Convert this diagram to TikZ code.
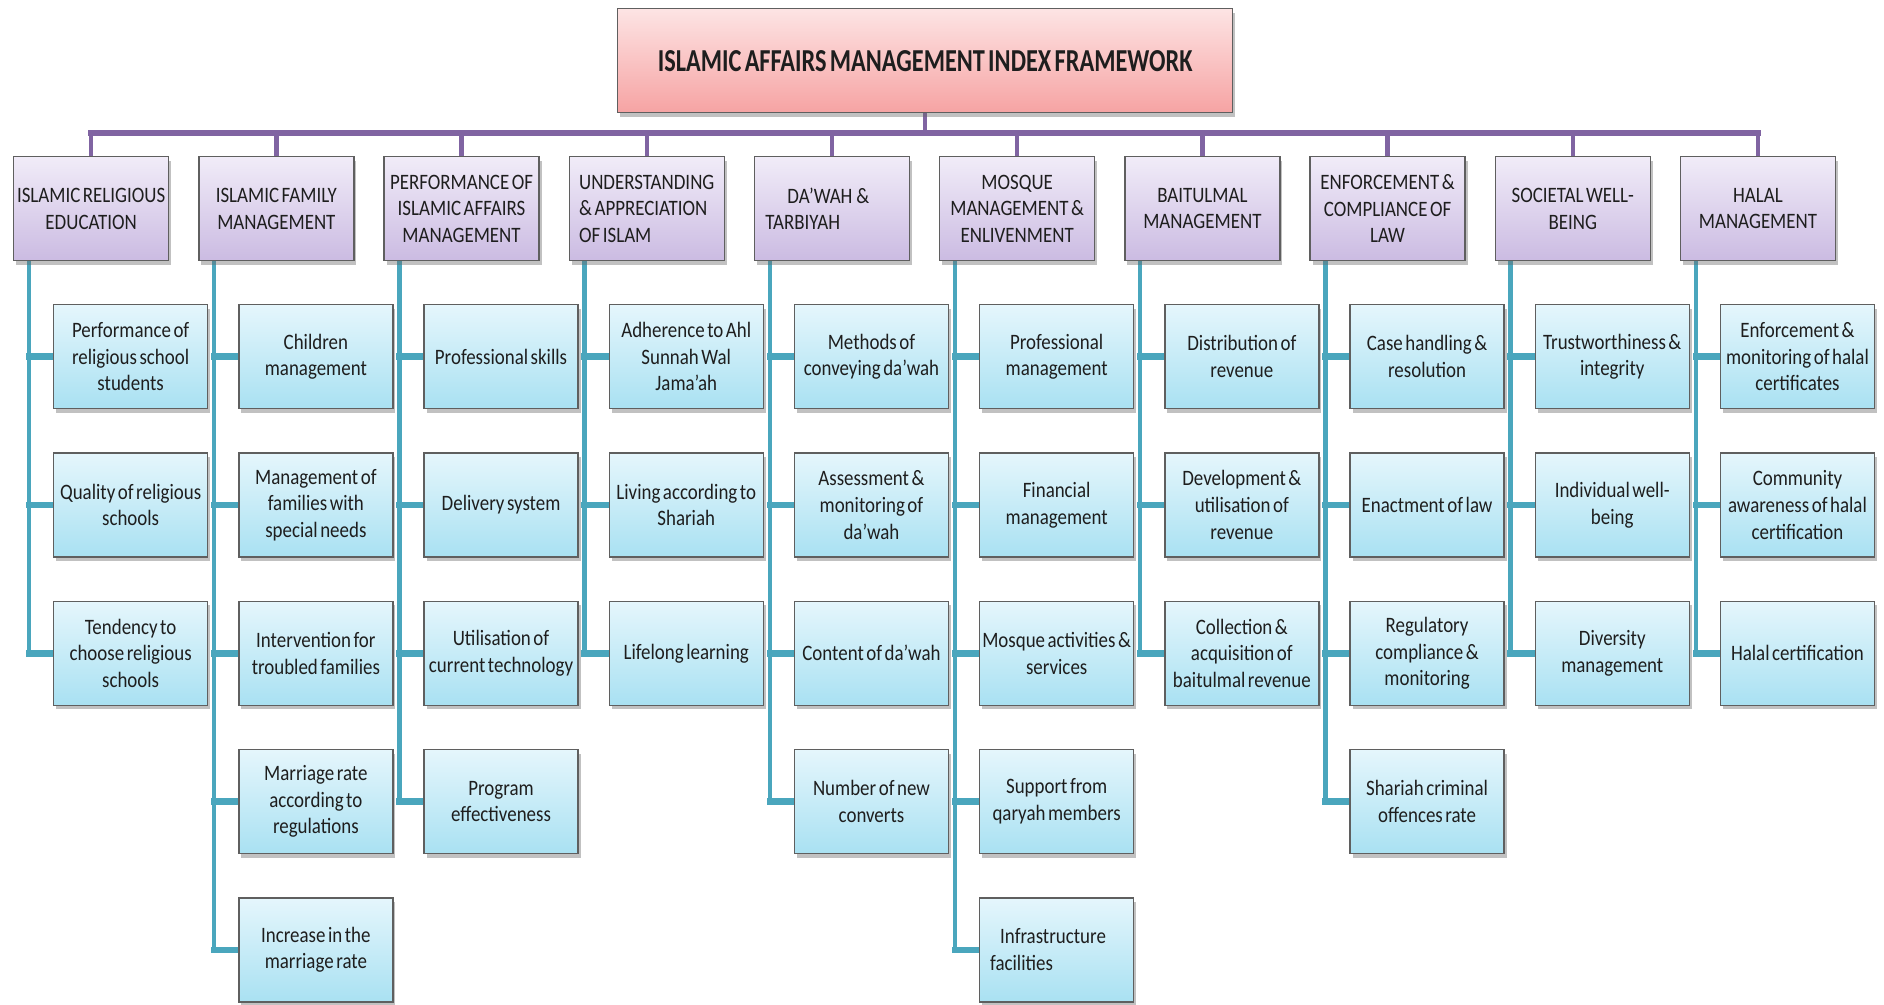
\documentclass[tikz,border=0pt]{standalone}
\usepackage{fontspec}
\setmainfont{Carlito}[FakeStretch=0.86, WordSpace=0.6]
\newfontfamily\titlefont{Carlito}[FakeStretch=0.76, WordSpace=0.6]
\usetikzlibrary{shadows,backgrounds}
\definecolor{boxline}{HTML}{5F5F5F}
\definecolor{titletop}{HTML}{FDE4E4}
\definecolor{titlebot}{HTML}{F6A3A3}
\definecolor{cattop}{HTML}{F1ECF8}
\definecolor{catbot}{HTML}{CBBBE2}
\definecolor{subtop}{HTML}{E5F6FC}
\definecolor{subbot}{HTML}{A9E1F2}
\definecolor{purpline}{HTML}{8064A2}
\definecolor{tealline}{HTML}{4AA6BD}
\definecolor{txt}{HTML}{1E1E1E}
\begin{document}
\begin{tikzpicture}[x=1pt,y=-1pt,
  every node/.style={inner sep=0pt, text=txt},
  shadowed/.style={drop shadow={shadow xshift=2.5pt,shadow yshift=-4pt,opacity=0.4,fill=black!60}},
  titlebox/.style={shadowed, draw=boxline, line width=1.3pt, top color=titletop, bottom color=titlebot,
    minimum width=615pt, minimum height=104pt, anchor=north west,
    font=\titlefont\bfseries\fontsize{32}{38}\selectfont},
  catbox/.style={shadowed, draw=boxline, line width=1.3pt, top color=cattop, bottom color=catbot,
    minimum width=155pt, minimum height=104pt, anchor=north west, align=center,
    font=\fontsize{22}{26.7}\selectfont},
  subbox/.style={shadowed, draw=boxline, line width=1.3pt, top color=subtop, bottom color=subbot,
    minimum width=154pt, minimum height=104pt, anchor=north west, align=center,
    font=\fontsize{22}{26.7}\selectfont},
  leftish/.style={text width=133pt, align=left},
  purpleline/.style={draw=purpline, line width=4.5pt},
  purplebar/.style={draw=purpline, line width=6pt, line cap=rect},
  spine/.style={draw=tealline, line width=4.5pt},
  stub/.style={draw=tealline, line width=6.5pt, line cap=rect},
]
\useasboundingbox (0,0) rectangle (1884,1004);

% title
\node[titlebox] (title) at (617,8) {ISLAMIC AFFAIRS MANAGEMENT INDEX FRAMEWORK};
\coordinate (bar) at (924.5,133);

% categories
\node[catbox] (c1)  at (13,156)     {ISLAMIC RELIGIOUS\\EDUCATION};
\node[catbox] (c2)  at (198.2,156)  {ISLAMIC FAMILY\\MANAGEMENT};
\node[catbox] (c3)  at (383.4,156)  {PERFORMANCE OF\\ISLAMIC AFFAIRS\\MANAGEMENT};
\node[catbox, align=left] (c4)  at (568.6,156)  {UNDERSTANDING\\\& APPRECIATION\\OF ISLAM};
\node[catbox, leftish] (c5)  at (753.8,156)  {\hspace*{22pt}DA’WAH\kern4pt\&\\TARBIYAH};
\node[catbox] (c6)  at (939,156)    {MOSQUE\\MANAGEMENT \&\\ENLIVENMENT};
\node[catbox] (c7)  at (1124.2,156) {BAITULMAL\\MANAGEMENT};
\node[catbox] (c8)  at (1309.4,156) {ENFORCEMENT \&\\COMPLIANCE OF\\LAW};
\node[catbox] (c9)  at (1494.6,156) {SOCIETAL WELL-\\BEING};
\node[catbox] (c10) at (1679.8,156) {HALAL\\MANAGEMENT};

% column 1
\node[subbox] (c1-1) at (53,304)   {Performance of\\religious school\\students};
\node[subbox] (c1-2) at (53,452.3) {Quality of religious\\schools};
\node[subbox] (c1-3) at (53,600.6) {Tendency to\\choose religious\\schools};
% column 2
\node[subbox] (c2-1) at (238.2,304)   {Children\\management};
\node[subbox] (c2-2) at (238.2,452.3) {Management of\\families with\\special needs};
\node[subbox] (c2-3) at (238.2,600.6) {Intervention for\\troubled families};
\node[subbox] (c2-4) at (238.2,748.9) {Marriage rate\\according to\\regulations};
\node[subbox] (c2-5) at (238.2,897.2) {Increase in the\\marriage rate};
% column 3
\node[subbox] (c3-1) at (423.4,304)   {Professional skills};
\node[subbox] (c3-2) at (423.4,452.3) {Delivery system};
\node[subbox] (c3-3) at (423.4,600.6) {Utilisation of\\current technology};
\node[subbox] (c3-4) at (423.4,748.9) {Program\\effectiveness};
% column 4
\node[subbox] (c4-1) at (608.6,304)   {Adherence to Ahl\\Sunnah Wal\\Jama’ah};
\node[subbox] (c4-2) at (608.6,452.3) {Living according to\\Shariah};
\node[subbox] (c4-3) at (608.6,600.6) {Lifelong learning};
% column 5
\node[subbox] (c5-1) at (793.8,304)   {Methods of\\conveying da’wah};
\node[subbox] (c5-2) at (793.8,452.3) {Assessment \&\\monitoring of\\da’wah};
\node[subbox] (c5-3) at (793.8,600.6) {Content of da’wah};
\node[subbox] (c5-4) at (793.8,748.9) {Number of new\\converts};
% column 6
\node[subbox] (c6-1) at (979,304)   {Professional\\management};
\node[subbox] (c6-2) at (979,452.3) {Financial\\management};
\node[subbox] (c6-3) at (979,600.6) {Mosque activities \&\\services};
\node[subbox] (c6-4) at (979,748.9) {Support from\\qaryah members};
\node[subbox, leftish] (c6-5) at (979,897.2) {\hspace*{10pt}Infrastructure\\facilities};
% column 7
\node[subbox] (c7-1) at (1164.2,304)   {Distribution of\\revenue};
\node[subbox] (c7-2) at (1164.2,452.3) {Development \&\\utilisation of\\revenue};
\node[subbox] (c7-3) at (1164.2,600.6) {Collection \&\\acquisition of\\baitulmal revenue};
% column 8
\node[subbox] (c8-1) at (1349.4,304)   {Case handling \&\\resolution};
\node[subbox] (c8-2) at (1349.4,452.3) {Enactment of law};
\node[subbox] (c8-3) at (1349.4,600.6) {Regulatory\\compliance \&\\monitoring};
\node[subbox] (c8-4) at (1349.4,748.9) {Shariah criminal\\offences rate};
% column 9
\node[subbox] (c9-1) at (1534.6,304)   {Trustworthiness \&\\integrity};
\node[subbox] (c9-2) at (1534.6,452.3) {Individual well-\\being};
\node[subbox] (c9-3) at (1534.6,600.6) {Diversity\\management};
% column 10
\node[subbox] (c10-1) at (1719.8,304)   {Enforcement \&\\monitoring of halal\\certificates};
\node[subbox] (c10-2) at (1719.8,452.3) {Community\\awareness of halal\\certification};
\node[subbox] (c10-3) at (1719.8,600.6) {Halal certification};

\foreach \c in {1,...,10} {\coordinate (s\c) at ([xshift=16pt]c\c.south west);}

\begin{scope}[on background layer]
  \fill[white] (0,0) rectangle (1884,1004);
  \draw[purpleline] (title.south) -- (title.south |- bar);
  \draw[purplebar] (c1.north |- bar) -- (c10.north |- bar);
  \foreach \c in {1,...,10} {\draw[purpleline] (c\c.north |- bar) -- (c\c.north);}
  \foreach \c/\n in {1/3,2/5,3/4,4/3,5/4,6/5,7/3,8/4,9/3,10/3} {
    \draw[spine] (s\c) -- (s\c |- c\c-\n.west);
    \foreach \k in {1,...,\n} {\draw[stub] (s\c |- c\c-\k.west) -- (c\c-\k.west);}
  }
\end{scope}
\end{tikzpicture}
\end{document}
